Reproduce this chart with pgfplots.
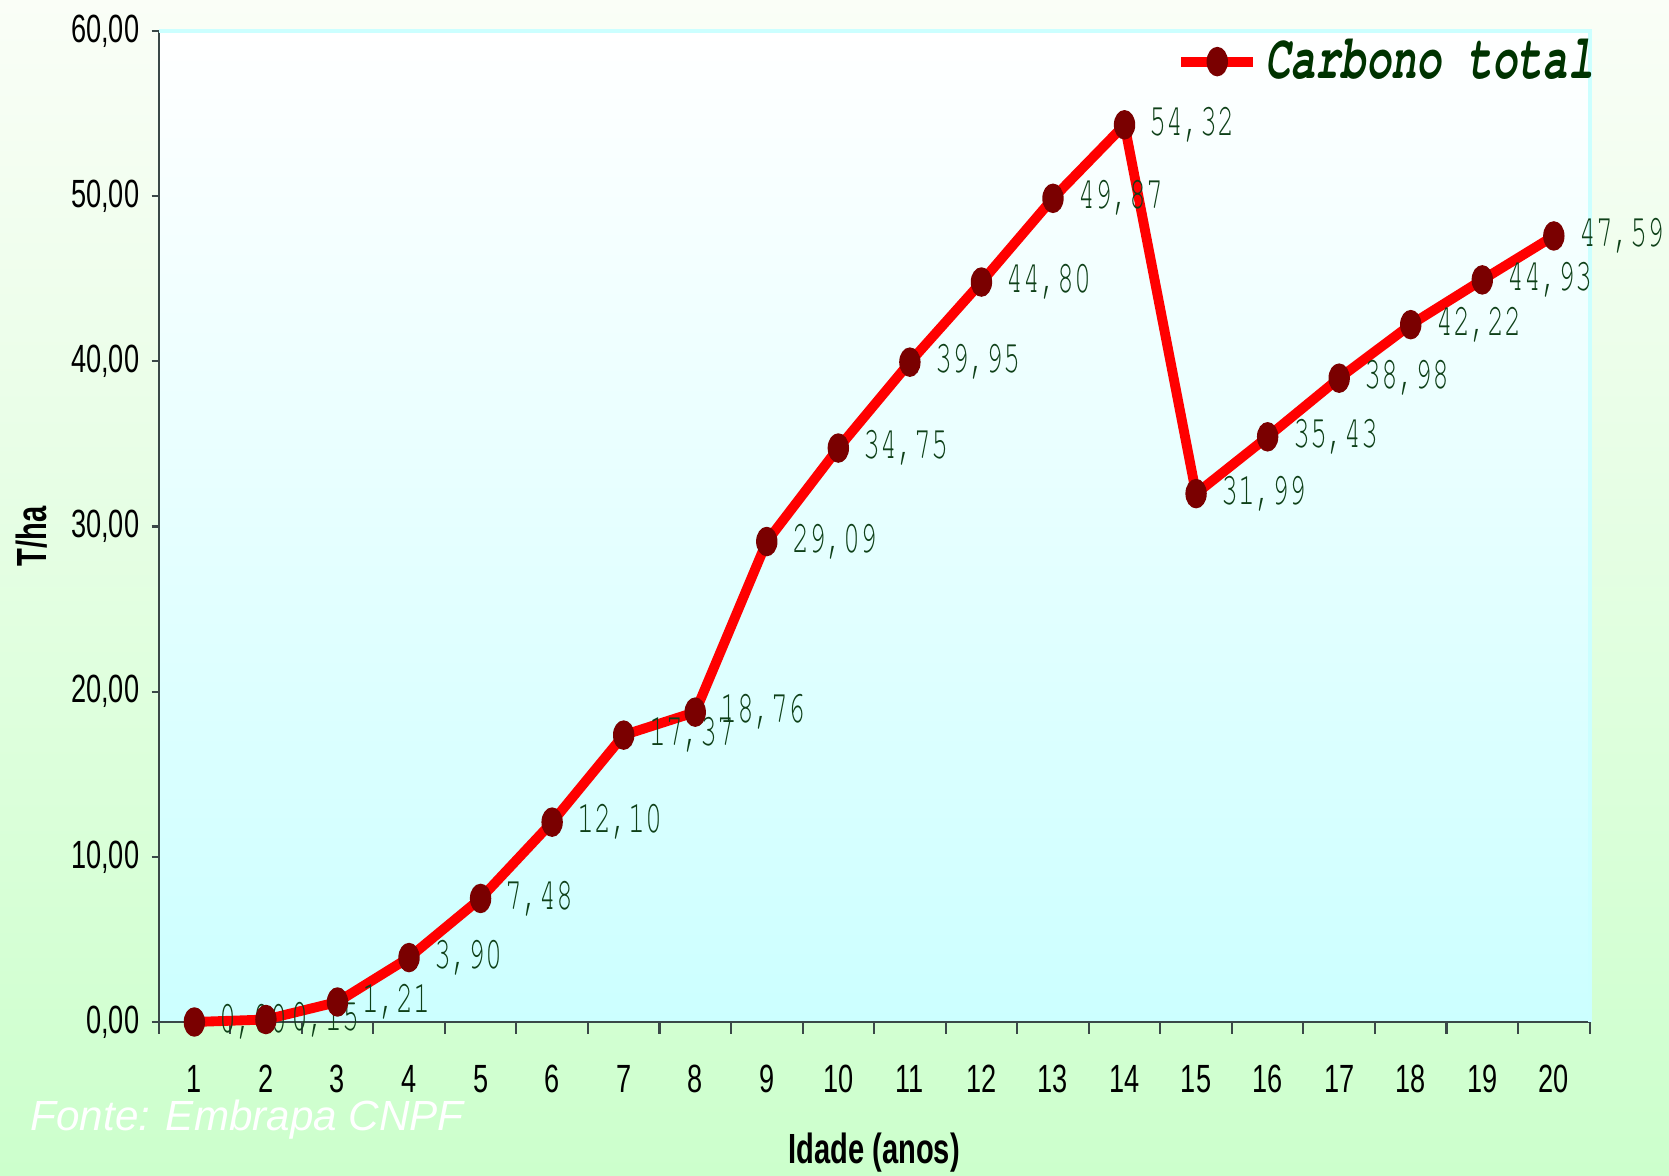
\documentclass[border=0pt]{standalone}
\usepackage{pgfplots}
\pgfplotsset{compat=1.18}
\usepackage{fontspec}
\setmainfont{Liberation Sans}
\newfontfamily\tickfont{Liberation Sans}[FakeStretch=0.69]
\newfontfamily\titlefont{Liberation Sans}[FakeStretch=0.69]
\newfontfamily\labmono{TeX Gyre Cursor}[FakeStretch=0.62]
\newfontfamily\legmono{TeX Gyre Cursor}[FakeStretch=0.665]
\definecolor{bgtop}{HTML}{FAFEF7}
\definecolor{bgbot}{HTML}{CCFFCC}
\definecolor{plotbot}{HTML}{CCFFFF}
\definecolor{markred}{HTML}{7A0000}
\definecolor{labgreen}{HTML}{0E4018}
\definecolor{leggreen}{HTML}{003300}
\definecolor{axcol}{HTML}{3A4848}
\begin{document}
\begin{tikzpicture}
\useasboundingbox (0,0) rectangle (16.69,11.75);
\shade[top color=bgtop, bottom color=bgbot] (0,0) rectangle (16.69,11.75);
\begin{axis}[
  at={(1.586cm,1.53cm)}, anchor=south west,
  scale only axis, width=14.31cm, height=9.91cm,
  xmin=0.5, xmax=20.5, ymin=0, ymax=60,
  axis x line=bottom, axis y line=left,
  axis line style={-, axcol, line width=0.6pt},
  axis background/.style={shade, top color=white, bottom color=plotbot},
  clip=false,
  tick align=outside,
  major tick length=0.7mm, minor tick length=1.2mm,
  xtick={1,...,20},
  minor xtick={0.5,1.5,...,20.5},
  major x tick style={draw=none},
  minor x tick style={axcol, line width=0.6pt},
  major y tick style={axcol, line width=0.6pt},
  ytick={0,10,...,60},
  /pgf/number format/assume math mode=true,
  yticklabel style={font=\tickfont\fontsize{11.2}{13}\selectfont,
    /pgf/number format/.cd, fixed, fixed zerofill, precision=2, use comma, assume math mode=true},
  xticklabel style={font=\tickfont\fontsize{11.2}{13}\selectfont, yshift=-2.4mm},
  xlabel={Idade (anos)},
  ylabel={T/ha},
  xlabel style={font=\titlefont\bfseries\fontsize{12}{14}\selectfont, at={(axis description cs:0.5,-0.1322)}, anchor=center},
  ylabel style={font=\titlefont\bfseries\fontsize{12}{14}\selectfont, at={(axis description cs:-0.0885,0.49)}, anchor=center},
  legend style={at={(1,1)}, anchor=north east, draw=none, fill=none,
    font=\legmono\bfseries\itshape\fontsize{18}{20}\selectfont, text=leggreen, inner sep=1pt, yshift=0.3mm, xshift=1.5mm},
  legend image code/.code={\draw[mark repeat=2,mark phase=2,#1] plot coordinates {(0cm,0cm) (0.36cm,0cm) (0.72cm,0cm)};},
]
\addplot[red, line width=2.8pt, line join=round, mark=*, mark size=4pt,
  mark options={solid, xscale=0.71, fill=markred, draw=markred, line width=0.4pt},
  point meta=y,
  nodes near coords={\pgfmathprintnumber[fixed,fixed zerofill,precision=2,use comma,assume math mode=true]{\pgfplotspointmeta}},
  every node near coord/.append style={anchor=west, xshift=1.3mm, text=labgreen, font=\labmono\fontsize{13}{15}\selectfont},
] coordinates {
(1,0.00) (2,0.15) (3,1.21) (4,3.90) (5,7.48) (6,12.10) (7,17.37) (8,18.76) (9,29.09) (10,34.75)
(11,39.95) (12,44.80) (13,49.87) (14,54.32) (15,31.99) (16,35.43) (17,38.98) (18,42.22) (19,44.93) (20,47.59)
};
\addlegendentry{Carbono total}
\draw[plotbot, line width=1.2pt] (rel axis cs:0,1) -- (rel axis cs:1,1) -- (rel axis cs:1,0);
\end{axis}
\node[anchor=base west, inner sep=0pt, text=white, font=\itshape\fontsize{12}{14}\selectfont] at (0.30,0.45) {Fonte: Embrapa CNPF};
\end{tikzpicture}
\end{document}
